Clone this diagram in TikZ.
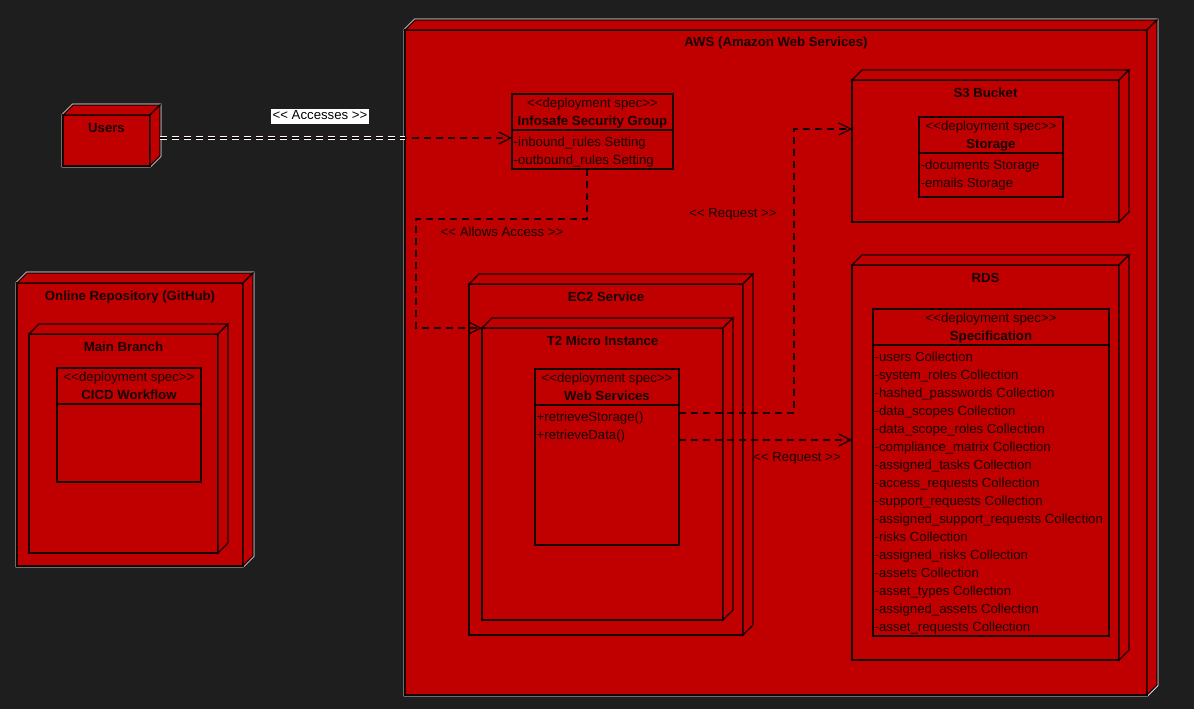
\documentclass[tikz,border=0pt]{standalone}
\usepackage{fontspec}
\newfontfamily\lsans{Liberation Sans}
\usetikzlibrary{arrows.meta,calc}
\definecolor{bg}{HTML}{1E1E1E}
\definecolor{nred}{HTML}{C00000}
\definecolor{ink}{HTML}{160000}
\newcommand\fsr{\lsans\fontsize{13.2pt}{15pt}\selectfont}
\newcommand\fsb{\fsr\bfseries}
\newcommand\LLt{<\kern0pt<}
\newcommand\GGt{>\kern0pt>}
\tikzset{
  box/.style={draw=ink, fill=nred, line width=1.2pt, inner sep=0pt, outer sep=0pt},
  face/.style={draw=ink, fill=nred, line width=1.2pt, line join=miter},
  halo/.style={draw=white, line width=2.8pt, line join=miter},
  lbl/.style={font=\fsr, text=ink, inner sep=0pt, text height=9.5pt, text depth=2.5pt},
  ttl/.style={lbl, font=\fsb},
  dep/.style={draw=ink, line width=1.2pt, dash pattern=on 7pt off 5pt,
    -{Straight Barb[length=12pt, width=12pt, line width=1.2pt]}},
  halodash/.style={draw=white, line width=3.2pt, dash pattern=on 7pt off 5pt}
}
% deployment node: name, x1, y1, x2, y2, halo(1/0), title
\newcommand\dnode[7]{%
  \pgfmathsetmacro\dnX{(#2+#4)/2}%
  \pgfmathsetmacro\dnY{(#3+#5)/2}%
  \pgfmathsetmacro\dnW{#4-#2}%
  \pgfmathsetmacro\dnH{#5-#3}%
  \ifnum#6=1
    \draw[halo] (#2,#3) -- (#2+10,#3-10) -- (#4+10,#3-10) -- (#4+10,#5-10) -- (#4,#5) -- (#2,#5) -- cycle;
  \fi
  \node[box, minimum width=\dnW pt, minimum height=\dnH pt] (#1) at (\dnX,\dnY) {};
  \draw[face] (#1.north west) -- ++(10,-10) -- ([shift={(10,-10)}]#1.north east) -- (#1.north east) -- cycle;
  \draw[face] (#1.north east) -- ++(10,-10) -- ([shift={(10,-10)}]#1.south east) -- (#1.south east) -- cycle;
  \node[ttl] (#1-title) at ([yshift=-13.5pt]#1.north) {#7};
}
% deployment spec: name, x1, y1, x2, y2, title, attributes
\newcommand\dspec[7]{%
  \pgfmathsetmacro\dnX{(#2+#4)/2}%
  \pgfmathsetmacro\dnY{(#3+#5)/2}%
  \pgfmathsetmacro\dnW{#4-#2}%
  \pgfmathsetmacro\dnH{#5-#3}%
  \node[box, minimum width=\dnW pt, minimum height=\dnH pt] (#1) at (\dnX,\dnY) {};
  \node[lbl] (#1-st) at (\dnX,#3+10) {\LLt deployment spec\GGt};
  \node[ttl] (#1-title) at (\dnX,#3+28) {#6};
  \draw[draw=ink, line width=1.2pt] (#2,#3+36) -- (#4,#3+36);
  \foreach \t [count=\i] in {#7} {\node[lbl, anchor=west] (#1-a\i) at (#2+1.5, #3+48.5+18*\i-18) {\t};}
}
\begin{document}
\begin{tikzpicture}[x=1pt,y=-1pt]
\fill[bg] (0,0) rectangle (1194,709);
\useasboundingbox (0,0) rectangle (1194,709);

% left side
\dnode{users}{63}{115}{150}{166}{1}{Users}
\dnode{git}{17}{283}{243}{566}{1}{Online Repository (GitHub)}
\dnode{main}{29}{334}{218}{553}{0}{Main Branch}
\dspec{cicd}{57}{368}{201}{482}{CICD Workflow}{}

% AWS
\dnode{aws}{405}{30}{1147}{695}{1}{AWS (Amazon Web Services)}
\dspec{inf}{512}{94}{673}{169}{Infosafe Security Group}{-inbound\_rules Setting,-outbound\_rules Setting}
\dnode{s3}{852}{80}{1119}{222}{0}{S3 Bucket}
\dspec{stor}{919}{117}{1063}{197}{Storage}{-documents Storage,-emails Storage}
\dnode{rds}{852}{265}{1119}{660}{0}{RDS}
\dspec{spec}{873}{309}{1109}{636}{Specification}{-users Collection,-system\_roles Collection,-hashed\_passwords Collection,-data\_scopes Collection,-data\_scope\_roles Collection,-compliance\_matrix Collection,-assigned\_tasks Collection,-access\_requests Collection,-support\_requests Collection,-assigned\_support\_requests Collection,-risks Collection,-assigned\_risks Collection,-assets Collection,-asset\_types Collection,-assigned\_assets Collection,-asset\_requests Collection}
\dnode{ec2}{469}{284}{743}{635}{0}{EC2 Service}
\dnode{t2}{482}{328}{723}{620}{0}{T2 Micro Instance}
\dspec{web}{535}{369}{679}{545}{Web Services}{+retrieveStorage(),+retrieveData()}

% connectors
\coordinate (ustart) at ([xshift=10pt,yshift=2.5pt]users.east);
\draw[halodash] (ustart) -- (ustart -| aws.west);
\draw[dep] (ustart) -- ([yshift=-6.5pt]inf.west);
\node[font=\fsr, text=black, fill=white, inner sep=1.5pt, text height=9.5pt, text depth=2.5pt] (lacc) at (320,116) {\LLt{} Accesses \GGt};

\draw[dep] ([xshift=-5.5pt]inf.south) |- (416,219) |- (t2.north west);
\node[lbl] (lallow) at (502,233) {\LLt{} Allows Access \GGt};

\draw[dep] ([yshift=44pt]web.east) -| (794,129) -- ([yshift=22pt]s3.west);
\node[lbl] (lreq1) at (733,214) {\LLt{} Request \GGt};

\draw[dep] ([yshift=17pt]web.east) -- ([yshift=22.5pt]rds.west);
\node[lbl] (lreq2) at (797,458) {\LLt{} Request \GGt};
\end{tikzpicture}
\end{document}
